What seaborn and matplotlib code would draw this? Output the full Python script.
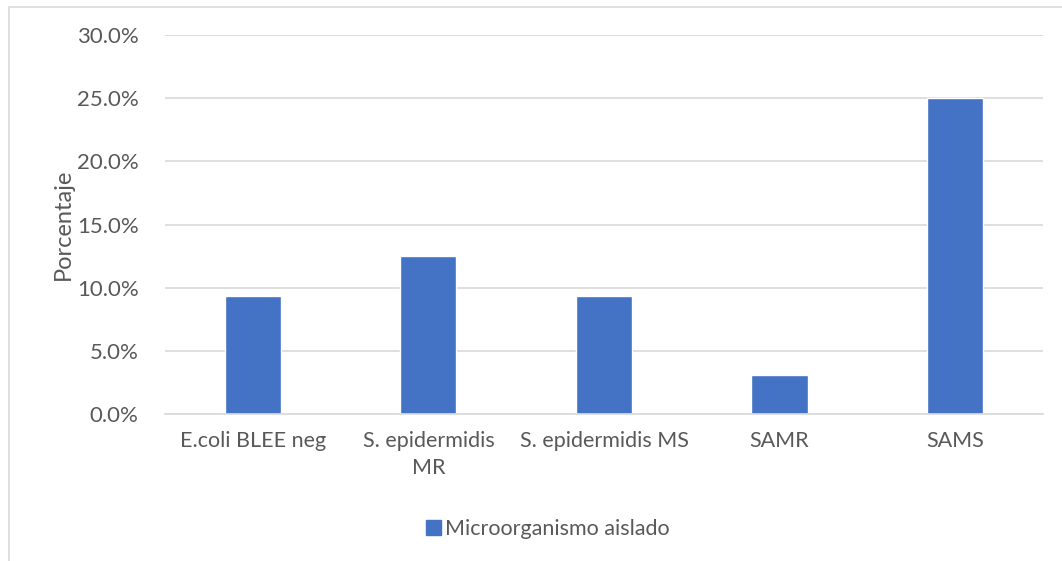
import matplotlib
matplotlib.use("Agg")
import matplotlib.pyplot as plt
import seaborn as sns
import pandas as pd
from matplotlib.ticker import PercentFormatter
from matplotlib.patches import Rectangle

categories = ["E.coli BLEE neg", "S. epidermidis\nMR", "S. epidermidis MS", "SAMR", "SAMS"]
porcentajes = [9.375, 12.5, 9.375, 3.125, 25.0]
series_name = "Microorganismo aislado"

sns.set_theme(style="white")
plt.rcParams["font.family"] = ["Lato", "DejaVu Sans"]

df = pd.DataFrame({"cat": categories, "pct": porcentajes, "serie": series_name})

fig = plt.figure(figsize=(10.62, 5.61), dpi=100)
ax = fig.add_axes([0.1554, 0.262, 0.8266, 0.6756])

sns.barplot(data=df, x="cat", y="pct", hue="serie", palette=["#4472C4"],
            width=0.32, saturation=1, ax=ax, legend=False)

ax.set_ylim(0, 30)
ax.set_yticks([0, 5, 10, 15, 20, 25, 30])
ax.yaxis.set_major_formatter(PercentFormatter(decimals=1))
ax.grid(axis="y", color="#D9D9D9", linewidth=1.2)
ax.set_axisbelow(True)
for s in ["top", "right", "left"]:
    ax.spines[s].set_visible(False)
ax.spines["bottom"].set_color("#D9D9D9")
ax.spines["bottom"].set_linewidth(1.2)

ax.tick_params(axis="both", length=0, labelcolor="#595959")
ax.tick_params(axis="y", pad=19, labelsize=16)
ax.tick_params(axis="x", pad=12, labelsize=15.5)
for t in ax.get_xticklabels():
    t.set_linespacing(1.45)
ax.set_xlabel("")
ax.set_ylabel("Porcentaje", fontsize=17, color="#595959", labelpad=2)

# legend
handle = Rectangle((0, 0), 1, 1, color="#4472C4")
fig.legend([handle], [series_name], loc="center", bbox_to_anchor=(548 / 1062, 1 - 529 / 561),
           frameon=False, fontsize=15.5, labelcolor="#595959", handlelength=0.7,
           handleheight=0.7, handletextpad=0.2)

# chart area border
fig.patches.append(Rectangle((9 / 1062, -0.1), 1.2, 1.1 - 7 / 561, transform=fig.transFigure,
                             fill=False, edgecolor="#D9D9D9", linewidth=1.2))

fig.savefig("out.png", dpi=100)
